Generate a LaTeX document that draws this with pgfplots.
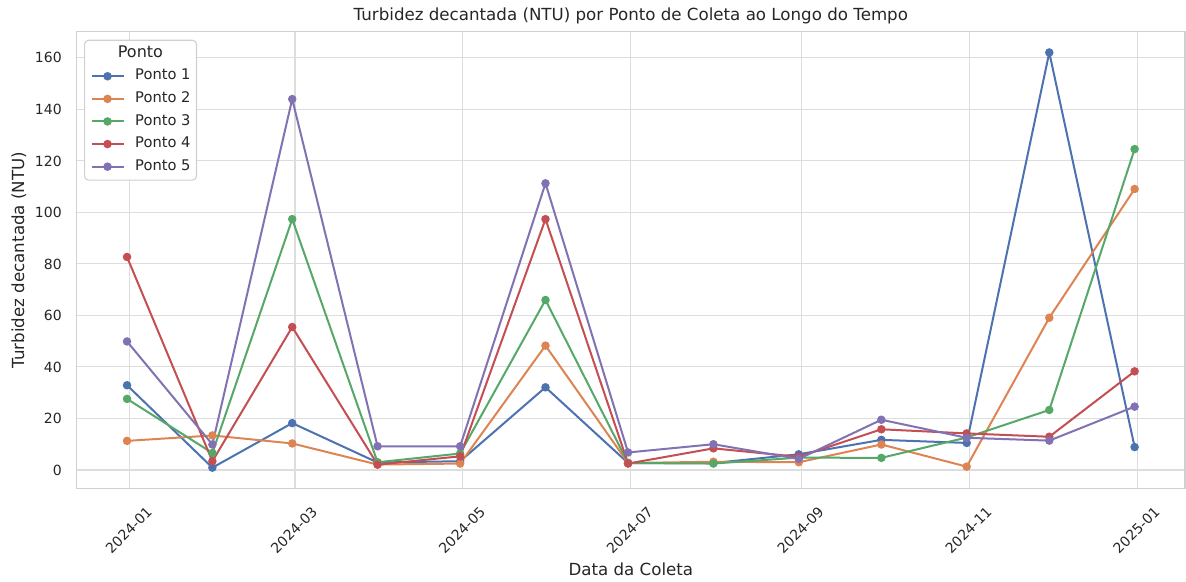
\documentclass[border=0pt]{standalone}
\usepackage{fontspec}
\setmainfont{DejaVu Sans}
\usepackage{pgfplots}
\pgfplotsset{compat=1.18}
\usepackage{pgfplotstable}
\definecolor{c1}{HTML}{4C72B0}
\definecolor{c2}{HTML}{DD8452}
\definecolor{c3}{HTML}{55A868}
\definecolor{c4}{HTML}{C44E52}
\definecolor{c5}{HTML}{8172B3}
\definecolor{txt}{HTML}{262626}
\definecolor{gridc}{HTML}{DDDDDD}
\definecolor{framec}{HTML}{D0D0D0}

% x = days since 2024-01-01 (sample dates at month ends)
\pgfplotstableread{
x    p1     p2     p3     p4    p5
-1   32.9   11.3   27.6   82.7  49.9
30   0.9    13.4   6.6    3.4   9.9
59   18.2   10.3   97.4   55.5  144.0
90   2.9    2.1    3.0    2.1   9.2
120  3.4    2.5    6.4    5.3   9.2
151  32.1   48.3   66.0   97.4  111.3
181  2.7    2.7    2.7    2.5   6.8
212  2.7    3.2    2.5    8.4   10.0
243  6.1    3.0    4.8    5.1   4.3
273  11.7   9.9    4.7    15.8  19.5
304  10.5   1.3    12.6   14.2  12.5
334  162.1  59.1   23.3   12.9  11.4
365  8.9    109.1  124.6  38.3  24.6
}\data

\begin{document}
\begin{tikzpicture}
\begin{axis}[
  name=ax,
  scale only axis,
  width=831.2pt, height=342.5pt,
  xmin=-19.3, xmax=383.3, ymin=-7.16, ymax=170.16,
  xtick={0,60,121,182,244,305,366},
  xticklabels={2024-01,2024-03,2024-05,2024-07,2024-09,2024-11,2025-01},
  ytick={0,20,40,60,80,100,120,140,160},
  grid=major,
  major grid style={draw=gridc, line width=0.8pt},
  axis line style={draw=framec, line width=1pt},
  major tick length=0pt,
  /pgf/number format/assume math mode=true,
  tick label style={font=\fontsize{10.5}{12}\selectfont, text=txt},
  x tick label style={anchor=center, yshift=-31.3pt, xshift=-0.8pt, rotate=45},
  y tick label style={xshift=-7.7pt},
  title={Turbidez decantada (NTU) por Ponto de Coleta ao Longo do Tempo},
  title style={at={(axis description cs:0.5,1)}, anchor=center, yshift=5.8pt,
    font=\fontsize{12.5}{14}\selectfont, text=txt},
  xlabel={Data da Coleta},
  xlabel style={at={(axis description cs:0.5,0)}, anchor=center, yshift=-60.5pt,
    font=\fontsize{12.5}{14}\selectfont, text=txt},
  ylabel={Turbidez decantada (NTU)},
  ylabel style={at={(axis description cs:0,0.5)}, anchor=center, yshift=43.4pt,
    font=\fontsize{12.5}{14}\selectfont, text=txt},
  legend style={at={(0,1)}, anchor=north west, xshift=5.5pt, yshift=-6pt,
    draw=framec, line width=0.8pt, rounded corners=3pt, fill=white,
    inner xsep=4.5pt, inner ysep=4.8pt, row sep=6.45pt, column sep=8pt,
    nodes={inner sep=0pt, text height=8pt, text depth=2.5pt,
      font=\fontsize{11}{13}\selectfont, text=txt},
    cells={anchor=west}},
  legend image code/.code={\draw[mark repeat=2,mark phase=2,rounded corners=0pt]
    plot coordinates {(0pt,0pt)(12pt,0pt)(24pt,0pt)};},
  every axis plot/.append style={line width=1.5pt, mark=*, mark size=2.4pt,
    mark options={solid, line width=0.3pt}},
]
\addlegendimage{empty legend}
\addlegendentry{\hspace*{-13pt}\fontsize{12}{13}\selectfont Ponto}
\addplot[color=c1, mark options={fill=c1}] table[x=x, y=p1] {\data};
\addlegendentry{Ponto 1}
\addplot[color=c2, mark options={fill=c2}] table[x=x, y=p2] {\data};
\addlegendentry{Ponto 2}
\addplot[color=c3, mark options={fill=c3}] table[x=x, y=p3] {\data};
\addlegendentry{Ponto 3}
\addplot[color=c4, mark options={fill=c4}] table[x=x, y=p4] {\data};
\addlegendentry{Ponto 4}
\addplot[color=c5, mark options={fill=c5}] table[x=x, y=p5] {\data};
\addlegendentry{Ponto 5}
\end{axis}
\pgfresetboundingbox
\path[use as bounding box] ([xshift=-57.5pt,yshift=-69.5pt]ax.south west) rectangle ([xshift=0.75pt,yshift=23.8pt]ax.north east);
\end{tikzpicture}
\end{document}
